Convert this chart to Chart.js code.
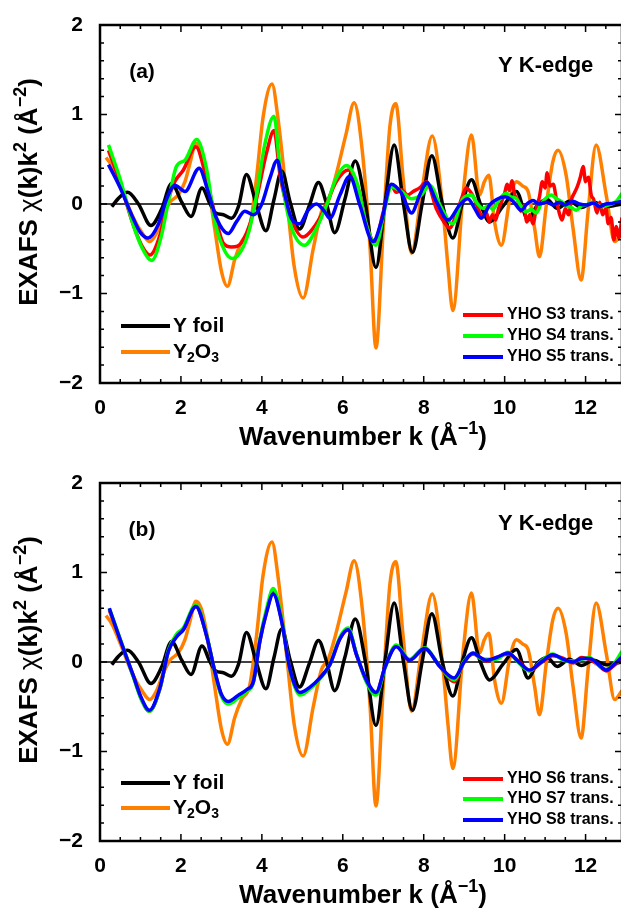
<!DOCTYPE html>
<html>
<head>
<meta charset="utf-8">
<script src="https://cdn.jsdelivr.net/npm/chart.js@4"></script>
<style>
html, body { margin: 0; padding: 0; background: #fff; width: 621px; height: 911px; overflow: hidden; }
.panneau { position: absolute; left: 0; }
</style>
</head>
<body>
<canvas id="grapheA" class="panneau" style="top:0px" width="625" height="455"></canvas>
<canvas id="grapheB" class="panneau" style="top:458px" width="625" height="455"></canvas>
<script>
/********************/
/* Données globales */
/********************/

//Axes
var kMin = 0, kMax = 12.9;
var chiMin = -2, chiMax = 2;
var ticksK = [0, 2, 4, 6, 8, 10, 12];
var ticksChi = [-2, -1, 0, 1, 2];

//Références (identiques dans les deux panneaux)
var kFoil = [0.29, 0.45, 0.68, 0.95, 1.26, 1.52, 1.77, 2.02, 2.25, 2.52, 2.72, 2.86, 3.05, 3.25, 3.42, 3.62, 3.86, 4.1, 4.3, 4.49, 4.7, 4.93, 5.17, 5.4, 5.6, 5.8, 6.05, 6.31, 6.56, 6.82, 7.04, 7.27, 7.5, 7.72, 7.96, 8.2, 8.46, 8.72, 8.95, 9.18, 9.4, 9.63, 9.95, 10.29, 10.58, 10.8, 11.05, 11.3, 11.6, 11.9, 12.2, 12.5, 12.9];
var chiFoil = [-0.03, 0.06, 0.13, 0.0, -0.24, -0.06, 0.23, 0.02, -0.14, 0.18, 0.0, -0.1, -0.12, -0.16, -0.03, 0.33, 0.0, -0.3, 0.05, 0.37, 0.02, -0.28, -0.02, 0.24, 0.0, -0.32, 0.05, 0.48, 0.0, -0.71, 0.0, 0.66, 0.0, -0.54, 0.0, 0.54, 0.0, -0.38, 0.0, 0.27, 0.0, -0.2, -0.03, 0.14, -0.18, -0.02, 0.05, -0.05, 0.03, -0.04, 0.02, -0.03, 0.0];

var kY2O3 = [0.15, 0.3, 0.49, 0.82, 1.05, 1.23, 1.4, 1.55, 1.73, 1.93, 2.1, 2.22, 2.37, 2.5, 2.63, 2.84, 3.0, 3.15, 3.33, 3.5, 3.7, 3.87, 4.03, 4.25, 4.4, 4.63, 4.8, 5.02, 5.27, 5.47, 5.64, 5.82, 6.08, 6.28, 6.48, 6.67, 6.82, 7.0, 7.16, 7.31, 7.49, 7.7, 7.94, 8.21, 8.48, 8.6, 8.72, 8.97, 9.18, 9.38, 9.5, 9.61, 9.75, 9.92, 10.12, 10.29, 10.45, 10.58, 10.74, 10.86, 11.03, 11.19, 11.32, 11.52, 11.69, 11.89, 12.06, 12.26, 12.51, 12.72, 12.9];
var chiY2O3 = [0.52, 0.42, 0.22, -0.15, -0.33, -0.42, -0.32, -0.14, 0.02, 0.1, 0.25, 0.45, 0.68, 0.6, 0.34, -0.29, -0.75, -0.92, -0.62, -0.42, -0.26, 0.3, 0.97, 1.34, 0.95, 0.0, -0.7, -1.05, -0.5, -0.09, 0.03, 0.3, 0.78, 1.13, 0.6, -0.46, -1.61, -0.27, 0.85, 1.12, 0.29, -0.55, 0.1, 0.76, -0.09, -0.7, -1.19, 0.1, 0.77, 0.1, 0.25, 0.32, -0.2, -0.46, 0.03, 0.25, 0.2, 0.14, -0.27, -0.59, -0.01, 0.47, 0.6, 0.32, -0.27, -0.85, -0.09, 0.66, 0.1, -0.42, -0.32];

//Panneau (a) : échantillons S3, S4, S5
var kS3 = [0.21, 0.49, 0.82, 1.05, 1.23, 1.48, 1.65, 1.85, 2.06, 2.37, 2.59, 2.84, 3.05, 3.25, 3.4, 3.54, 3.7, 3.87, 4.12, 4.3, 4.45, 4.69, 5.02, 5.27, 5.51, 5.84, 6.13, 6.38, 6.58, 6.79, 7.0, 7.2, 7.32, 7.45, 7.6, 7.74, 7.9, 8.07, 8.31, 8.5, 8.64, 8.8, 8.95, 9.05, 9.15, 9.25, 9.35, 9.45, 9.55, 9.62, 9.7, 9.78, 9.85, 9.92, 10.0, 10.06, 10.12, 10.18, 10.25, 10.32, 10.4, 10.47, 10.55, 10.62, 10.7, 10.78, 10.86, 10.93, 11.0, 11.05, 11.12, 11.2, 11.28, 11.35, 11.42, 11.5, 11.58, 11.65, 11.72, 11.8, 11.87, 11.94, 12.0, 12.07, 12.14, 12.2, 12.28, 12.35, 12.42, 12.5, 12.56, 12.63, 12.7, 12.76, 12.82, 12.9];
var chiS3 = [0.6, 0.25, -0.23, -0.48, -0.57, -0.35, -0.01, 0.25, 0.38, 0.64, 0.36, -0.12, -0.44, -0.48, -0.47, -0.4, -0.23, 0.06, 0.58, 0.82, 0.32, -0.12, -0.37, -0.27, -0.09, 0.25, 0.38, 0.18, -0.23, -0.42, -0.09, 0.21, 0.13, 0.16, 0.1, 0.14, 0.18, 0.25, -0.05, -0.2, -0.27, -0.12, 0.08, 0.18, 0.14, 0.06, -0.06, -0.14, -0.1, -0.2, -0.12, -0.18, -0.05, 0.02, 0.12, 0.22, 0.15, 0.26, 0.1, 0.05, -0.08, -0.02, -0.2, -0.12, -0.22, -0.05, 0.08, 0.25, 0.18, 0.35, 0.2, 0.22, 0.05, -0.1, -0.18, -0.05, -0.12, 0.05, 0.12, 0.2, 0.3, 0.42, 0.25, 0.3, 0.1, 0.05, -0.1, 0.02, -0.12, -0.05, -0.22, -0.15, -0.4, -0.25, -0.38, -0.15];

var kS4 = [0.21, 0.49, 0.82, 1.05, 1.28, 1.52, 1.69, 1.89, 2.1, 2.39, 2.63, 2.84, 3.09, 3.28, 3.54, 3.7, 3.87, 4.07, 4.3, 4.45, 4.69, 5.06, 5.35, 5.6, 5.84, 6.09, 6.34, 6.58, 6.82, 7.04, 7.2, 7.45, 7.7, 7.94, 8.15, 8.4, 8.64, 8.72, 8.97, 9.18, 9.3, 9.47, 9.6, 9.71, 9.85, 10.04, 10.15, 10.29, 10.4, 10.53, 10.65, 10.78, 10.9, 11.03, 11.15, 11.28, 11.4, 11.52, 11.65, 11.77, 11.9, 12.02, 12.15, 12.26, 12.4, 12.51, 12.65, 12.76, 12.9];
var chiS4 = [0.66, 0.29, -0.23, -0.5, -0.63, -0.35, 0.03, 0.42, 0.49, 0.72, 0.4, -0.2, -0.53, -0.61, -0.48, -0.27, 0.1, 0.66, 0.98, 0.4, -0.2, -0.46, -0.27, -0.01, 0.29, 0.43, 0.25, -0.23, -0.46, -0.05, 0.19, 0.14, 0.06, 0.1, 0.21, -0.01, -0.2, -0.22, 0.06, 0.1, 0.02, -0.05, -0.02, -0.06, 0.04, 0.12, 0.08, 0.06, -0.02, -0.09, -0.06, -0.1, 0.0, 0.07, 0.1, 0.06, 0.03, -0.02, -0.04, -0.07, -0.02, -0.01, 0.02, 0.0, -0.03, -0.02, 0.0, 0.03, 0.12];

var kS5 = [0.21, 0.49, 0.82, 1.0, 1.19, 1.44, 1.65, 1.85, 2.1, 2.45, 2.67, 2.88, 3.17, 3.37, 3.58, 3.79, 3.99, 4.2, 4.38, 4.53, 4.73, 4.94, 5.14, 5.35, 5.56, 5.68, 5.93, 6.17, 6.42, 6.75, 6.95, 7.2, 7.45, 7.7, 7.9, 8.07, 8.31, 8.6, 8.89, 9.09, 9.26, 9.42, 9.63, 9.8, 10.0, 10.21, 10.41, 10.55, 10.7, 10.85, 11.03, 11.2, 11.36, 11.5, 11.69, 11.85, 12.02, 12.2, 12.35, 12.5, 12.68, 12.9];
var chiS5 = [0.44, 0.19, -0.16, -0.32, -0.38, -0.23, 0.06, 0.21, 0.14, 0.4, 0.14, -0.16, -0.33, -0.2, -0.08, -0.12, -0.01, 0.29, 0.49, 0.18, -0.16, -0.22, -0.07, 0.0, -0.09, -0.16, 0.1, 0.31, -0.01, -0.42, -0.2, 0.22, 0.12, -0.1, 0.1, 0.24, 0.03, -0.18, -0.01, 0.06, -0.05, -0.16, -0.01, 0.05, 0.08, 0.03, -0.07, 0.0, 0.04, 0.0, 0.02, -0.01, 0.02, -0.01, 0.03, 0.0, -0.01, 0.01, -0.03, 0.0, 0.01, 0.03];

//Panneau (b) : échantillons S6, S7, S8 (même grille en k)
var kPanneauB = [0.23, 0.49, 0.82, 1.02, 1.22, 1.48, 1.69, 1.89, 2.06, 2.37, 2.63, 2.84, 3.0, 3.17, 3.42, 3.62, 3.79, 3.95, 4.12, 4.28, 4.49, 4.69, 4.94, 5.19, 5.43, 5.68, 5.93, 6.13, 6.34, 6.58, 6.82, 7.05, 7.32, 7.65, 8.02, 8.4, 8.75, 9.0, 9.22, 9.4, 9.55, 9.8, 10.08, 10.35, 10.62, 10.9, 11.19, 11.45, 11.69, 11.9, 12.1, 12.3, 12.51, 12.7, 12.9];
var chiS6 = [0.58, 0.26, -0.15, -0.41, -0.55, -0.3, 0.12, 0.29, 0.36, 0.62, 0.3, -0.11, -0.37, -0.45, -0.38, -0.32, -0.22, 0.23, 0.57, 0.78, 0.46, -0.07, -0.35, -0.29, -0.18, -0.03, 0.26, 0.36, 0.08, -0.21, -0.35, -0.05, 0.18, 0.02, 0.15, -0.05, -0.22, 0.0, 0.09, 0.05, 0.01, 0.05, 0.09, 0.01, -0.1, -0.01, 0.07, 0.04, -0.01, 0.05, 0.03, -0.03, -0.1, -0.04, 0.04];
var chiS7 = [0.6, 0.27, -0.16, -0.42, -0.55, -0.3, 0.13, 0.31, 0.38, 0.64, 0.31, -0.12, -0.38, -0.47, -0.4, -0.33, -0.23, 0.25, 0.6, 0.82, 0.48, -0.08, -0.37, -0.3, -0.19, -0.03, 0.28, 0.38, 0.09, -0.22, -0.37, -0.06, 0.19, 0.03, 0.16, -0.05, -0.2, 0.01, 0.1, 0.04, 0.03, 0.03, 0.11, -0.01, -0.1, 0.01, 0.09, 0.02, 0.01, 0.03, 0.05, -0.03, -0.08, -0.02, 0.12];
var chiS8 = [0.6, 0.26, -0.15, -0.4, -0.54, -0.29, 0.12, 0.28, 0.36, 0.62, 0.3, -0.11, -0.36, -0.44, -0.37, -0.31, -0.22, 0.23, 0.56, 0.76, 0.45, -0.07, -0.34, -0.28, -0.18, -0.03, 0.26, 0.36, 0.08, -0.2, -0.34, -0.05, 0.17, 0.02, 0.15, -0.05, -0.18, 0.0, 0.1, 0.05, 0.02, 0.05, 0.1, 0.0, -0.09, 0.0, 0.08, 0.03, 0.0, 0.04, 0.04, -0.02, -0.09, -0.03, 0.06];

/***********/
/* Styles  */
/***********/
var POLICE = 'Arial, "Liberation Sans", sans-serif';
var NOIR = '#000000', ORANGE = '#ff8000', ROUGE = '#ff0000', VERT = '#00ff00', BLEU = '#0000ff';

Chart.defaults.color = NOIR;
Chart.defaults.font.family = POLICE;

/*************/
/* Outils    */
/*************/

//Combinaison des valeurs de k et de chi pour former les points (x,y)
function paires(xs, ys) {
    var donnees = [];
    for (var i = 0; i < xs.length; i++) {
        donnees.push({ x: xs[i], y: ys[i] });
    }
    return donnees;
}

//Création d'une courbe
function serie(nom, xs, ys, couleur, ordre) {
    return {
        label: nom,
        data: paires(xs, ys),
        borderColor: couleur,
        backgroundColor: couleur,
        borderWidth: 3.5,
        pointRadius: 0,
        fill: false,
        cubicInterpolationMode: 'monotone',
        order: ordre
    };
}

//Police d'un morceau de texte (exposant / indice plus petits)
function policeMorceau(m, taille) {
    var t = (m.exp || m.ind) ? Math.round(taille * 0.68) : taille;
    return (m.normal ? '' : 'bold ') + t + 'px ' + POLICE;
}

//Texte avec exposants et indices
function texteRiche(ctx, morceaux, x, y, taille, alignement) {
    var largeur = 0;
    morceaux.forEach(function(m) {
        ctx.font = policeMorceau(m, taille);
        largeur += ctx.measureText(m.t).width;
    });
    var xc = (alignement === 'center') ? x - largeur / 2 : x;
    ctx.textAlign = 'left';
    ctx.textBaseline = 'middle';
    morceaux.forEach(function(m) {
        ctx.font = policeMorceau(m, taille);
        var dy = m.exp ? -taille * 0.36 : (m.ind ? taille * 0.3 : 0);
        ctx.fillText(m.t, xc, y + dy);
        xc += ctx.measureText(m.t).width;
    });
}

//Signe moins typographique
function moins(v) {
    return String(v).replace('-', '\u2212');
}

/**********************************/
/* Cadre, graduations et légendes */
/**********************************/
var pluginCadre = {
    id: 'cadre',
    beforeDatasetsDraw: function(chart) {
        var ctx = chart.ctx, xs = chart.scales.x, ys = chart.scales.y;
        var y0 = ys.getPixelForValue(0);
        ctx.save();
        ctx.strokeStyle = NOIR;
        ctx.lineWidth = 1.5;
        ctx.beginPath();
        ctx.moveTo(xs.left, y0);
        ctx.lineTo(xs.right, y0);
        ctx.stroke();
        ctx.restore();
    },
    afterDraw: function(chart, args, opts) {
        var ctx = chart.ctx, xs = chart.scales.x, ys = chart.scales.y;
        var a = chart.chartArea;
        var i, p, l;
        ctx.save();
        ctx.strokeStyle = NOIR;
        ctx.fillStyle = NOIR;

        //-Graduations vers l'intérieur (majeures + mineures)
        ctx.lineWidth = 1.5;
        ctx.beginPath();
        for (i = 0; i * 0.5 <= kMax + 1e-9; i++) {
            p = xs.getPixelForValue(i * 0.5);
            l = (i % 4 === 0) ? 7 : 4;
            ctx.moveTo(p, a.bottom); ctx.lineTo(p, a.bottom - l);
            ctx.moveTo(p, a.top); ctx.lineTo(p, a.top + l);
        }
        for (i = 0; chiMin + i * 0.2 <= chiMax + 1e-9; i++) {
            p = ys.getPixelForValue(chiMin + i * 0.2);
            l = (i % 5 === 0) ? 7 : 4;
            ctx.moveTo(a.left, p); ctx.lineTo(a.left + l, p);
            ctx.moveTo(a.right, p); ctx.lineTo(a.right - l, p);
        }
        ctx.stroke();

        //-Cadre
        ctx.lineWidth = 2.5;
        ctx.strokeRect(a.left, a.top, a.right - a.left, a.bottom - a.top);

        //-Titres des axes
        texteRiche(ctx, [{ t: 'Wavenumber k (\u00c5' }, { t: '\u22121', exp: true }, { t: ')' }],
            (a.left + a.right) / 2 + 2, a.bottom + 55, 26, 'center');
        ctx.save();
        ctx.translate(30, (a.top + a.bottom) / 2 - 12);
        ctx.rotate(-Math.PI / 2);
        texteRiche(ctx, [{ t: 'EXAFS ' }, { t: '\u03c7', normal: true }, { t: '(k)k' }, { t: '2', exp: true },
            { t: ' (\u00c5' }, { t: '\u22122', exp: true }, { t: ')' }], 0, 0, 26, 'center');
        ctx.restore();

        //-Lettre du panneau et bord d'absorption
        texteRiche(ctx, [{ t: opts.lettre }], a.left + 42, a.top + 47, 21, 'center');
        texteRiche(ctx, [{ t: 'Y K-edge' }], a.left + 398, a.top + 41, 22, 'left');

        //-Légende de gauche (références)
        opts.legendeGauche.forEach(function(item) {
            ctx.strokeStyle = item.couleur;
            ctx.lineWidth = 4;
            ctx.beginPath();
            ctx.moveTo(a.left + 21, a.top + item.dy);
            ctx.lineTo(a.left + 70, a.top + item.dy);
            ctx.stroke();
            ctx.fillStyle = NOIR;
            texteRiche(ctx, item.nom, a.left + 73, a.top + item.dy, 21, 'left');
        });

        //-Légende de droite (échantillons)
        opts.legendeDroite.forEach(function(item) {
            ctx.strokeStyle = item.couleur;
            ctx.lineWidth = 4;
            ctx.beginPath();
            ctx.moveTo(a.left + 363, a.top + item.dy);
            ctx.lineTo(a.left + 403, a.top + item.dy);
            ctx.stroke();
            ctx.fillStyle = NOIR;
            texteRiche(ctx, [{ t: item.nom }], a.left + 407, a.top + item.dy, 16, 'left');
        });
        ctx.restore();
    }
};

/*************************/
/* Création d'un panneau */
/*************************/
function creerPanneau(idCanvas, series, decor) {
    var ctx = document.getElementById(idCanvas).getContext('2d');
    return new Chart(ctx, {
        type: 'line',
        data: { datasets: series },
        options: {
            responsive: false,
            animation: false,
            layout: { padding: { top: 25, right: 3, left: 0, bottom: 0 } },
            scales: {
                x: {
                    type: 'linear',
                    min: kMin,
                    max: kMax,
                    grid: { display: false },
                    border: { display: false },
                    afterFit: function(scale) { scale.height = 72; },
                    afterBuildTicks: function(scale) {
                        scale.ticks = ticksK.map(function(v) { return { value: v }; });
                    },
                    ticks: {
                        padding: 5,
                        maxRotation: 0,
                        font: { size: 21, weight: 'bold' },
                        callback: moins
                    }
                },
                y: {
                    min: chiMin,
                    max: chiMax,
                    grid: { display: false },
                    border: { display: false },
                    afterFit: function(scale) { scale.width = 100; },
                    afterBuildTicks: function(scale) {
                        scale.ticks = ticksChi.map(function(v) { return { value: v }; });
                    },
                    ticks: {
                        padding: 9,
                        font: { size: 21, weight: 'bold' },
                        callback: moins
                    }
                }
            },
            plugins: {
                legend: { display: false },
                tooltip: { enabled: false },
                cadre: decor
            }
        },
        plugins: [pluginCadre]
    });
}

var nomY2O3 = [{ t: 'Y' }, { t: '2', ind: true }, { t: 'O' }, { t: '3', ind: true }];

//Panneau (a)
creerPanneau('grapheA', [
    serie('Y foil', kFoil, chiFoil, NOIR, 4),
    serie('Y2O3', kY2O3, chiY2O3, ORANGE, 5),
    serie('YHO S3 trans.', kS3, chiS3, ROUGE, 3),
    serie('YHO S4 trans.', kS4, chiS4, VERT, 2),
    serie('YHO S5 trans.', kS5, chiS5, BLEU, 1)
], {
    lettre: '(a)',
    legendeGauche: [
        { nom: [{ t: 'Y foil' }], couleur: NOIR, dy: 301 },
        { nom: nomY2O3, couleur: ORANGE, dy: 327 }
    ],
    legendeDroite: [
        { nom: 'YHO S3 trans.', couleur: ROUGE, dy: 290 },
        { nom: 'YHO S4 trans.', couleur: VERT, dy: 311 },
        { nom: 'YHO S5 trans.', couleur: BLEU, dy: 332 }
    ]
});

//Panneau (b)
creerPanneau('grapheB', [
    serie('Y foil', kFoil, chiFoil, NOIR, 4),
    serie('Y2O3', kY2O3, chiY2O3, ORANGE, 5),
    serie('YHO S6 trans.', kPanneauB, chiS6, ROUGE, 3),
    serie('YHO S7 trans.', kPanneauB, chiS7, VERT, 2),
    serie('YHO S8 trans.', kPanneauB, chiS8, BLEU, 1)
], {
    lettre: '(b)',
    legendeGauche: [
        { nom: [{ t: 'Y foil' }], couleur: NOIR, dy: 300 },
        { nom: nomY2O3, couleur: ORANGE, dy: 325 }
    ],
    legendeDroite: [
        { nom: 'YHO S6 trans.', couleur: ROUGE, dy: 296 },
        { nom: 'YHO S7 trans.', couleur: VERT, dy: 316 },
        { nom: 'YHO S8 trans.', couleur: BLEU, dy: 337 }
    ]
});
</script>
</body>
</html>
